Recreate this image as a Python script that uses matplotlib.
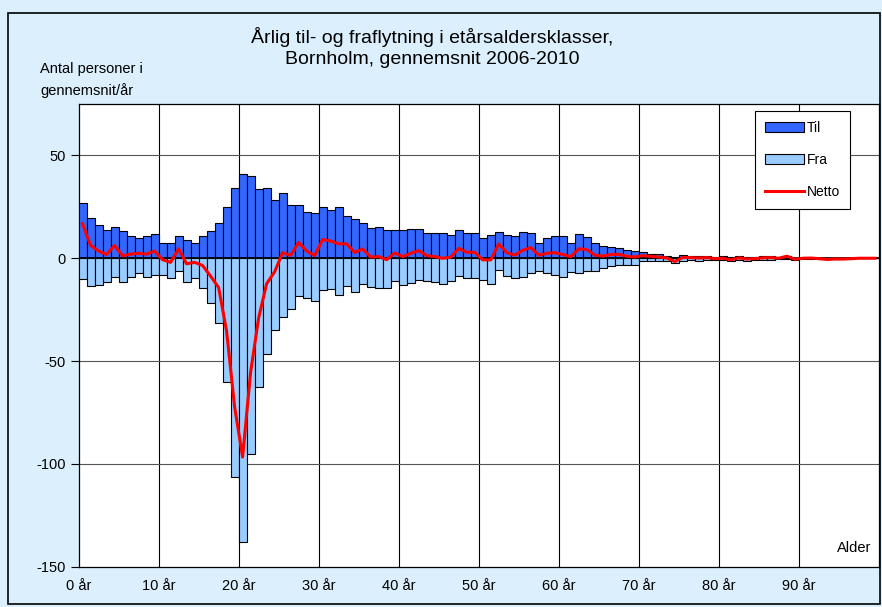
import matplotlib
matplotlib.use("Agg")
import matplotlib.pyplot as plt
import numpy as np
from matplotlib.patches import Patch, Rectangle
from matplotlib.lines import Line2D

plt.rcParams['font.family'] = ['Liberation Sans', 'DejaVu Sans']

# alder 0..99
ages = np.arange(100)

til = [26.8, 19.8, 16.4, 13.6, 15.1, 13.0, 10.9, 9.7, 10.9, 11.7,
       7.5, 7.5, 10.9, 8.9, 7.5, 10.9, 13.1, 17.2, 24.7, 34.3,
       41.1, 39.9, 33.6, 34.1, 28.1, 31.5, 26.1, 26.1, 22.6, 22.1,
       24.7, 23.4, 24.7, 20.5, 19.0, 17.2, 14.6, 15.1, 13.6, 13.6,
       13.6, 14.4, 14.4, 12.3, 12.3, 12.3, 11.5, 13.6, 12.3, 12.3,
       9.6, 11.5, 12.8, 11.5, 10.9, 12.8, 12.2, 7.5, 9.7, 11.0,
       10.7, 7.5, 11.9, 10.2, 7.5, 5.8, 5.4, 5.0, 4.1, 3.7,
       2.8, 2.1, 2.1, 1.3, 0.8, 1.6, 1.3, 1.3, 1.3, 0.8,
       1.0, 0.5, 1.0, 0.8, 0.8, 1.0, 1.0, 0.5, 1.3, 0.3,
       0.2, 0.3, 0.2, 0.0, 0.2, 0.0, 0.0, 0.0, 0.0, 0.0]

fra = [-10.0, -13.5, -12.9, -11.8, -8.9, -11.8, -8.9, -7.3, -8.9, -8.2,
       -8.2, -9.5, -6.3, -11.6, -9.5, -14.4, -21.8, -31.4, -60.1, -106.5,
       -137.8, -95.3, -62.7, -46.5, -34.7, -28.8, -24.7, -18.4, -19.1, -20.8,
       -15.6, -15.0, -17.7, -13.5, -16.2, -12.7, -14.0, -14.3, -14.3, -11.0,
       -12.8, -12.0, -10.7, -11.0, -11.5, -12.3, -11.0, -8.8, -9.4, -9.4,
       -10.4, -12.3, -5.8, -8.8, -9.4, -8.9, -7.0, -6.0, -7.3, -8.3,
       -8.9, -6.7, -7.3, -6.0, -6.0, -4.7, -3.6, -3.1, -3.1, -3.1,
       -1.5, -1.2, -1.5, -1.2, -2.4, -1.2, -1.0, -1.2, -1.0, -1.0,
       -1.0, -1.3, -0.8, -1.2, -1.0, -0.8, -0.7, -0.5, -0.3, -0.8,
       -0.2, -0.2, -0.4, -0.6, -0.6, -0.4, -0.2, 0.0, 0.0, 0.0]

netto = [16.8, 6.3, 3.5, 1.8, 6.2, 1.2, 2.0, 2.4, 2.0, 3.5,
         -0.7, -2.0, 4.6, -2.7, -2.0, -3.5, -8.7, -14.2, -35.4, -72.2,
         -96.7, -55.4, -29.1, -12.4, -6.6, 2.7, 1.4, 7.7, 3.5, 1.3,
         9.1, 8.4, 7.0, 7.0, 2.8, 4.5, 0.6, 0.8, -0.7, 2.6,
         0.8, 2.4, 3.7, 1.3, 0.8, 0.0, 0.5, 4.8, 2.9, 2.9,
         -0.8, -0.8, 7.0, 2.7, 1.5, 3.9, 5.2, 1.5, 2.4, 2.7,
         1.8, 0.8, 4.6, 4.2, 1.5, 1.1, 1.8, 1.9, 1.0, 0.6,
         1.3, 0.9, 0.6, 0.1, -1.6, 0.4, 0.3, 0.1, 0.3, -0.2,
         0.0, -0.8, 0.2, -0.4, -0.2, 0.2, 0.3, 0.0, 1.0, -0.5,
         0.0, 0.1, -0.2, -0.6, -0.4, -0.4, -0.2, 0.0, 0.0, 0.0]

xticks = [0, 10, 20, 30, 40, 50, 60, 70, 80, 90]
xlabels = [f"{t} år" for t in xticks]
yticks = [50, 0, -50, -100, -150]

c_til = '#3366FF'
c_fra = '#99CCFF'
c_bg = '#DBEFFC'

W, H = 882, 607
fig = plt.figure(figsize=(W / 100, H / 100), dpi=100)
fig.patch.set_facecolor(c_bg)

# outer frame
fig.patches.append(Rectangle((8 / W, 1 - 604 / H), (880 - 8) / W, (604 - 13) / H,
                             transform=fig.transFigure, fill=False,
                             edgecolor='black', linewidth=1.2))

ax = fig.add_axes([78.5 / W, 1 - 566.7 / H, (879 - 78.5) / W, (566.7 - 104) / H])
ax.set_facecolor('white')

ax.bar(ages + 0.5, til, width=1.0, color=c_til, edgecolor='black', linewidth=0.8, zorder=3)
ax.bar(ages + 0.5, fra, width=1.0, color=c_fra, edgecolor='black', linewidth=0.8, zorder=3)
ax.plot(ages + 0.5, netto, color='#FF0000', linewidth=2.2, zorder=5)
ax.axhline(0, color='black', linewidth=1.2, zorder=4)

ax.set_xlim(0, 100)
ax.set_ylim(-150, 75)
ax.set_xticks(xticks)
ax.set_xticklabels(xlabels)
ax.set_yticks(yticks)
ax.set_yticklabels([str(v) for v in yticks])
ax.tick_params(axis='x', length=0, pad=9, labelsize=10.5)
ax.tick_params(axis='y', length=6, direction='out', width=0.8, pad=3, labelsize=10.5)

for x in xticks[1:]:
    ax.axvline(x, color='black', linewidth=0.8, zorder=1)
for y in [50, -50, -100]:
    ax.axhline(y, color='#555555', linewidth=0.8, zorder=1)
for s in ax.spines.values():
    s.set_color('black')
    s.set_linewidth(0.9)

ax.text(0.99, 0.025, 'Alder', transform=ax.transAxes, ha='right', va='bottom', fontsize=10.5)

fig.text(0.49, 1 - 37 / H, 'Årlig til- og fraflytning i etårsaldersklasser,',
         ha='center', va='center', fontsize=14)
fig.text(0.49, 1 - 60 / H, 'Bornholm, gennemsnit 2006-2010',
         ha='center', va='center', fontsize=14)
fig.text(40 / W, 1 - 69 / H, 'Antal personer i', ha='left', va='center', fontsize=10.5)
fig.text(40 / W, 1 - 91 / H, 'gennemsnit/år', ha='left', va='center', fontsize=10.5)

handles = [Patch(facecolor=c_til, edgecolor='black', linewidth=0.8),
           Patch(facecolor=c_fra, edgecolor='black', linewidth=0.8),
           Line2D([0], [0], color='#FF0000', linewidth=2.2)]
leg = ax.legend(handles, ['Til', 'Fra', 'Netto'], loc='upper left',
                bbox_to_anchor=(755 / W, 1 - 111 / H), bbox_transform=fig.transFigure,
                borderaxespad=0, fontsize=10, handlelength=2.8, handleheight=0.7,
                handletextpad=0.25, labelspacing=1.3, borderpad=0.7,
                fancybox=False, framealpha=1)
leg.get_frame().set_edgecolor('black')
leg.get_frame().set_linewidth(0.8)
leg.set_zorder(10)

fig.savefig('out.png', dpi=100, facecolor=c_bg)
